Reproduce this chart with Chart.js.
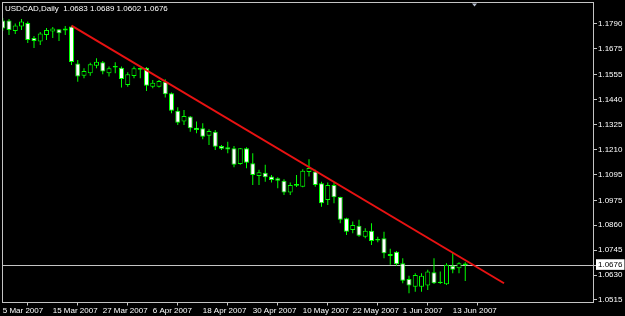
<!DOCTYPE html>
<html><head><meta charset="utf-8">
<script src="https://cdn.jsdelivr.net/npm/chart.js@4.4.1/dist/chart.umd.min.js"></script>
<style>html,body{margin:0;padding:0;background:#000;overflow:hidden}</style>
</head><body>
<canvas id="c" width="625" height="316"></canvas>
<script>
const symbol = 'USDCAD';
const period = 'Daily';
const dates = ['5 Mar 2007','6 Mar 2007','7 Mar 2007','8 Mar 2007','9 Mar 2007','12 Mar 2007','13 Mar 2007','14 Mar 2007','15 Mar 2007','16 Mar 2007',
'19 Mar 2007','20 Mar 2007','21 Mar 2007','22 Mar 2007','23 Mar 2007','26 Mar 2007','27 Mar 2007','28 Mar 2007','29 Mar 2007','30 Mar 2007',
'2 Apr 2007','3 Apr 2007','4 Apr 2007','5 Apr 2007','6 Apr 2007','9 Apr 2007','10 Apr 2007','11 Apr 2007','12 Apr 2007','13 Apr 2007',
'16 Apr 2007','17 Apr 2007','18 Apr 2007','19 Apr 2007','20 Apr 2007','23 Apr 2007','24 Apr 2007','25 Apr 2007','26 Apr 2007','27 Apr 2007',
'30 Apr 2007','1 May 2007','2 May 2007','3 May 2007','4 May 2007','7 May 2007','8 May 2007','9 May 2007','10 May 2007','11 May 2007',
'14 May 2007','15 May 2007','16 May 2007','17 May 2007','18 May 2007','21 May 2007','22 May 2007','23 May 2007','24 May 2007','25 May 2007',
'28 May 2007','29 May 2007','30 May 2007','31 May 2007','1 Jun 2007','4 Jun 2007','5 Jun 2007','6 Jun 2007','7 Jun 2007','8 Jun 2007',
'11 Jun 2007','12 Jun 2007','13 Jun 2007','14 Jun 2007','15 Jun 2007'];

const opens = [1.1806,1.1806,1.1758,1.1778,1.1795,1.1725,1.1709,1.1739,1.1755,1.1766,
1.1760,1.1778,1.1608,1.1551,1.1562,1.1597,1.1613,1.1562,1.1596,1.1588,
1.1508,1.1550,1.1578,1.1588,1.1500,1.1500,1.1523,1.1470,1.1389,1.1339,
1.1362,1.1311,1.1308,1.1273,1.1292,1.1226,1.1220,1.1216,1.1143,1.1216,
1.1146,1.1088,1.1103,1.1085,1.1077,1.1066,1.1011,1.1042,1.1038,1.1106,
1.1108,1.1054,1.0977,1.1046,1.0991,1.0892,1.0838,1.0858,1.0807,1.0834,
1.0797,1.0800,1.0727,1.0738,1.0684,1.0612,1.0576,1.0576,1.0581,1.0643,
1.0599,1.0587,1.0673,1.0661,1.0683];
const highs = [1.1818,1.1813,1.1792,1.1813,1.1802,1.1735,1.1753,1.1772,1.1776,1.1767,
1.1781,1.1782,1.1624,1.1585,1.1611,1.1632,1.1619,1.1593,1.1613,1.1593,
1.1567,1.1593,1.1588,1.1591,1.1531,1.1531,1.1535,1.1473,1.1405,1.1393,
1.1365,1.1339,1.1331,1.1304,1.1300,1.1231,1.1246,1.1226,1.1217,1.1220,
1.1193,1.1116,1.1139,1.1092,1.1082,1.1073,1.1057,1.1092,1.1119,1.1165,
1.1116,1.1061,1.1057,1.1057,1.0992,1.0895,1.0877,1.0885,1.0846,1.0869,
1.0807,1.0830,1.0751,1.0741,1.0708,1.0627,1.0638,1.0638,1.0654,1.0708,
1.0646,1.0684,1.0735,1.0689,1.0689];
const lows = [1.1758,1.1739,1.1744,1.1762,1.1702,1.1679,1.1693,1.1716,1.1725,1.1711,
1.1739,1.1601,1.1523,1.1539,1.1551,1.1585,1.1558,1.1547,1.1562,1.1496,
1.1500,1.1539,1.1539,1.1480,1.1493,1.1496,1.1450,1.1377,1.1323,1.1323,
1.1292,1.1285,1.1257,1.1231,1.1208,1.1208,1.1193,1.1128,1.1139,1.1123,
1.1046,1.1046,1.1061,1.1057,1.1031,1.1000,1.1000,1.1037,1.1036,1.1085,
1.1038,1.0946,1.0954,1.0962,1.0869,1.0815,1.0823,1.0807,1.0800,1.0769,
1.0781,1.0708,1.0677,1.0673,1.0592,1.0546,1.0553,1.0553,1.0561,1.0589,
1.0589,1.0584,1.0638,1.0638,1.0602];
const closes = [1.1769,1.1762,1.1783,1.1802,1.1716,1.1711,1.1746,1.1762,1.1769,1.1747,
1.1769,1.1614,1.1547,1.1573,1.1604,1.1616,1.1570,1.1585,1.1589,1.1536,
1.1558,1.1585,1.1587,1.1505,1.1519,1.1527,1.1465,1.1389,1.1334,1.1365,
1.1308,1.1300,1.1269,1.1296,1.1223,1.1214,1.1210,1.1139,1.1216,1.1149,
1.1092,1.1105,1.1082,1.1069,1.1066,1.1011,1.1046,1.1051,1.1112,1.1125,
1.1046,1.0962,1.1046,1.0989,1.0885,1.0830,1.0861,1.0812,1.0834,1.0787,
1.0790,1.0731,1.0718,1.0680,1.0603,1.0581,1.0630,1.0627,1.0646,1.0592,
1.0593,1.0677,1.0654,1.0684,1.0676];

// trend line: from 20 Mar 2007 high into future bars
const trendBars = [11, 80.2];
const trendPrices = [1.1782, 1.0592];

const xTickLabels = ['5 Mar 2007','15 Mar 2007','27 Mar 2007','6 Apr 2007','18 Apr 2007','30 Apr 2007','10 May 2007','22 May 2007','1 Jun 2007','13 Jun 2007'];
const yTickValues = [1.0515,1.0630,1.0745,1.0860,1.0975,1.1095,1.1210,1.1325,1.1440,1.1555,1.1675,1.1790];
const currentPrice = closes[closes.length - 1];
const shiftBar = 75.4;

const yMin = 1.0503, yMax = 1.1887;
const xMin = -0.12, xMax = 94.6;

const GREEN = '#00ff00';
const FRAME = '#c4c4c4';
const FONT = {family: "'Liberation Sans', Arial, sans-serif", size: 8};

const wickData = dates.map((d, i) => ({x: i, y: [lows[i], highs[i]]}));
const bodyData = dates.map((d, i) => ({x: i, y: [opens[i], closes[i]]}));
const bodyFill = dates.map((d, i) => closes[i] >= opens[i] ? '#000000' : '#ffffff');

const fmt = v => v.toFixed(4);
const titleText = symbol + ',' + period + '  ' + [opens, highs, lows, closes].map(a => fmt(a[a.length - 1])).join(' ');

const bgPlugin = {
  id: 'bg',
  beforeDraw(chart) {
    const c = chart.ctx;
    c.save(); c.fillStyle = '#000'; c.fillRect(0, 0, chart.width, chart.height); c.restore();
  }
};
const framePlugin = {
  id: 'frame',
  afterDatasetsDraw(chart) {
    const a = chart.chartArea, c = chart.ctx;
    c.save();
    c.strokeStyle = FRAME; c.lineWidth = 1;
    const x0 = Math.floor(a.left) + 0.5, y0 = Math.floor(a.top) - 0.5;
    const x1 = Math.ceil(a.right) - 0.5, y1 = Math.floor(a.bottom) + 0.5;
    c.strokeRect(x0, y0, x1 - x0, y1 - y0);
    // chart shift marker
    const sx = Math.round(chart.scales.x.getPixelForValue(shiftBar)) + 0.5;
    c.fillStyle = '#b8c0d0';
    c.beginPath(); c.moveTo(sx - 2.5, y0 + 1); c.lineTo(sx + 2.5, y0 + 1); c.lineTo(sx, y0 + 4); c.closePath(); c.fill();
    c.restore();
  },
  afterDraw(chart) {
    const c = chart.ctx;
    c.save();
    c.fillStyle = '#ffffff';
    c.font = FONT.size + 'px ' + FONT.family;
    c.textBaseline = 'middle'; c.textAlign = 'left';
    c.fillText(titleText, 5, 8.5);
    c.restore();
  }
};

new Chart(document.getElementById('c'), {
  type: 'bar',
  data: {
    datasets: [
      {type: 'line', label: 'trend', data: trendBars.map((b, i) => ({x: b, y: trendPrices[i]})),
       borderColor: '#e81212', borderWidth: 2, pointRadius: 0, order: 0, tension: 0},
      {type: 'bar', label: 'body', data: bodyData, backgroundColor: bodyFill, borderColor: GREEN,
       borderWidth: 1, borderSkipped: false, barThickness: 5, grouped: false, minBarLength: 1, inflateAmount: 0, order: 1},
      {type: 'bar', label: 'wick', data: wickData, backgroundColor: GREEN, borderWidth: 0,
       barThickness: 1, grouped: false, inflateAmount: 0, order: 2}
    ]
  },
  options: {
    responsive: false,
    animation: false,
    devicePixelRatio: 1,
    layout: {padding: {left: 2, top: 3, right: 0, bottom: 0}},
    plugins: {legend: {display: false}, tooltip: {enabled: false}, title: {display: false}},
    scales: {
      x: {
        type: 'linear', min: xMin, max: xMax, offset: false, bounds: 'data',
        border: {display: false},
        grid: {display: true, drawOnChartArea: false, drawTicks: true, tickLength: 3, tickColor: FRAME},
        ticks: {color: '#ffffff', font: FONT, padding: 0, align: 'start', maxRotation: 0, minRotation: 0, autoSkip: false,
                callback: v => dates[v]},
        afterBuildTicks: s => { s.ticks = xTickLabels.map(l => ({value: dates.indexOf(l)})); },
        afterFit: s => { s.height = 13.5; s.paddingLeft = 0; s.paddingRight = 0; }
      },
      y: {
        type: 'linear', position: 'right', min: yMin, max: yMax, bounds: 'data',
        border: {display: false},
        grid: {drawOnChartArea: true, drawTicks: true, tickLength: 3, tickColor: FRAME, lineWidth: 1,
               color: ctx => (ctx.tick && ctx.tick.value === currentPrice) ? FRAME : 'rgba(0,0,0,0)'},
        ticks: {autoSkip: false, padding: 1, font: FONT,
                color: ctx => (ctx.tick && ctx.tick.value === currentPrice) ? '#000000' : '#ffffff',
                showLabelBackdrop: ctx => !!(ctx.tick && ctx.tick.value === currentPrice),
                backdropColor: '#ffffff', backdropPadding: {left: 2, right: 2, top: 1, bottom: 0},
                callback: v => fmt(v)},
        afterBuildTicks: s => { s.ticks = yTickValues.concat([currentPrice]).sort((a, b) => a - b).map(v => ({value: v})); },
        afterFit: s => { s.width = 31; s.paddingTop = 0; s.paddingBottom = 0; }
      }
    }
  },
  plugins: [bgPlugin, framePlugin]
});
</script>
</body></html>
